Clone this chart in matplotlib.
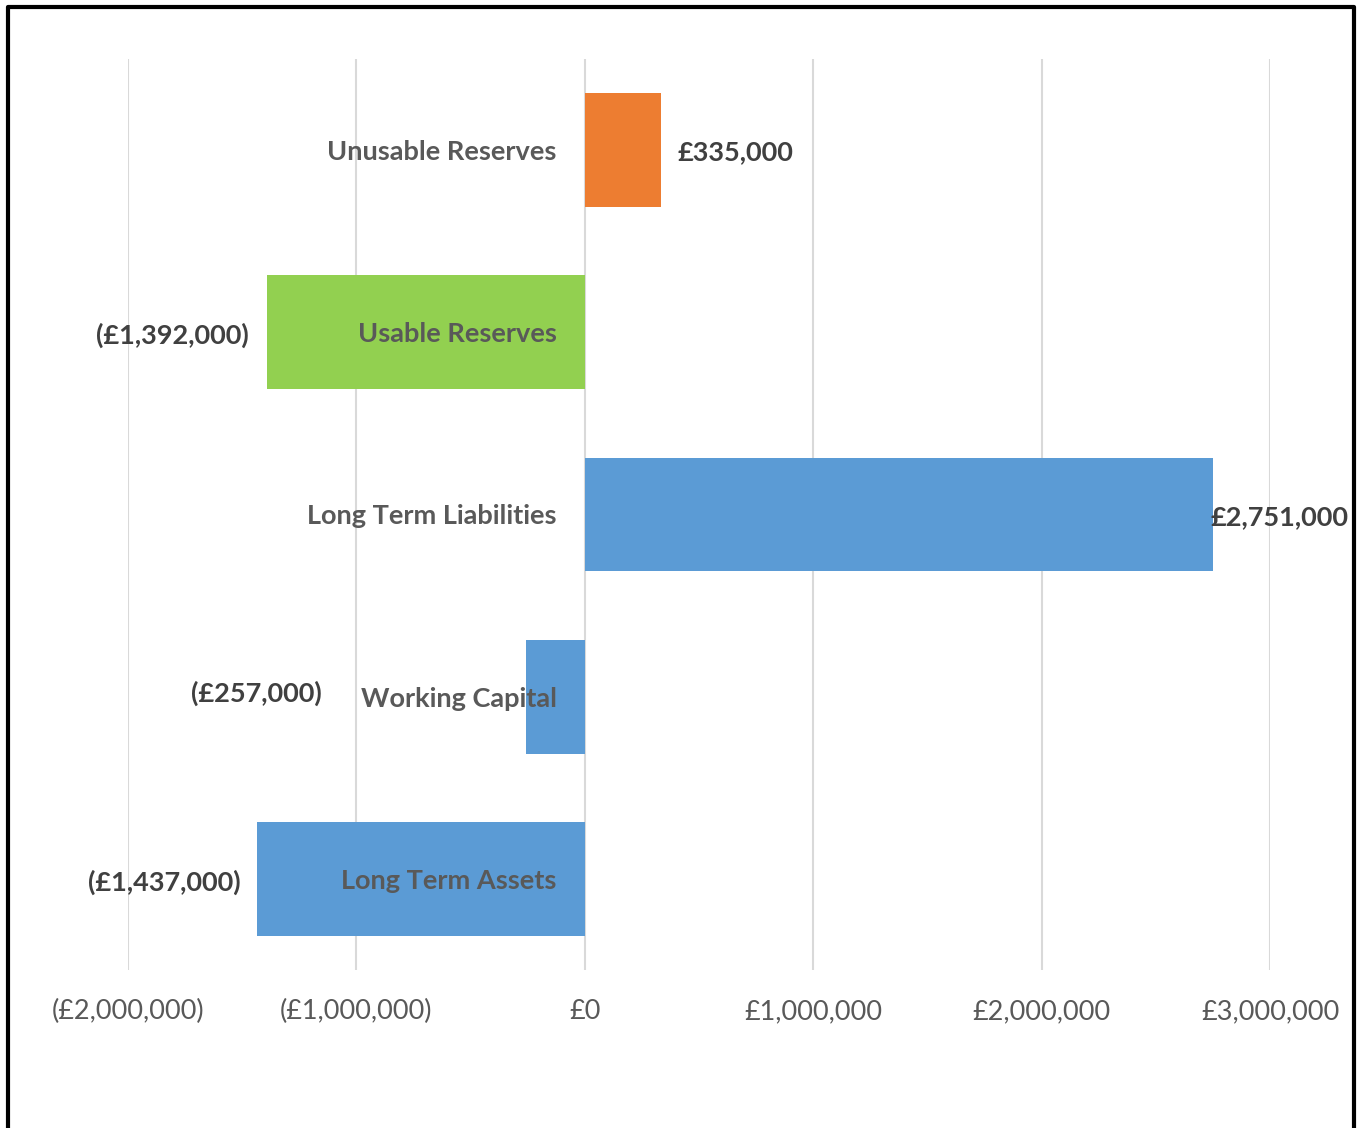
import matplotlib.pyplot as plt
from matplotlib.lines import Line2D
from matplotlib.ticker import FuncFormatter

# balance sheet movements, top to bottom
categories = ["Unusable Reserves", "Usable Reserves", "Long Term Liabilities",
              "Working Capital", "Long Term Assets"]
values = [335000, -1392000, 2751000, -257000, -1437000]
colors = ["#ED7D31", "#92D050", "#5B9BD5", "#5B9BD5", "#5B9BD5"]
tick_values = [-2000000, -1000000, 0, 1000000, 2000000, 3000000]


def money(v):
    s = "£{:,.0f}".format(abs(v))
    return "({})".format(s) if v < 0 else s


plt.rcParams['font.family'] = ['Lato', 'DejaVu Sans']

fig = plt.figure(figsize=(13.6, 11.28), dpi=100)
ax = fig.add_axes([128 / 1360, 1 - 970 / 1128, 1142 / 1360, 911 / 1128])

pos = list(range(len(categories)))
ax.barh(pos, values, height=0.625, color=colors, zorder=2)
ax.set_xlim(-2000000, 3000000)
ax.set_ylim(len(categories) - 0.5, -0.5)

ax.set_xticks(tick_values)
ax.xaxis.set_major_formatter(FuncFormatter(lambda v, p: money(v)))
ax.tick_params(axis='x', length=0, pad=21, labelsize=19.5, labelcolor="#595959")
ax.set_yticks([])
ax.grid(axis='x', color="#D9D9D9", linewidth=1.5, zorder=0)
for s in ax.spines.values():
    s.set_visible(False)

# category names sit just left of the zero line
for i, name in enumerate(categories):
    ax.annotate(name, xy=(0, i), xytext=(-28, -2), textcoords='offset pixels',
                ha='right', va='center', fontsize=19.5, fontweight='bold',
                color="#595959", zorder=3)

# value labels, nudged where they would collide
label_offsets = [(16, -2), (-18, -3), (-3, -3), (-204, 3), (-16, -3)]
for i, (v, off) in enumerate(zip(values, label_offsets)):
    ha = 'left' if v > 0 else 'right'
    ax.annotate(money(v), xy=(v, i), xytext=off, textcoords='offset pixels',
                ha=ha, va='center', fontsize=19.5, fontweight='bold',
                color="#404040", zorder=3)

# frame round the chart (open at the bottom)
fig.add_artist(Line2D([8 / 1360, 8 / 1360, 1354 / 1360, 1354 / 1360],
                      [0, 1 - 7 / 1128, 1 - 7 / 1128, 0],
                      transform=fig.transFigure, color="black", linewidth=3))

fig.savefig("out.png", dpi=100)
